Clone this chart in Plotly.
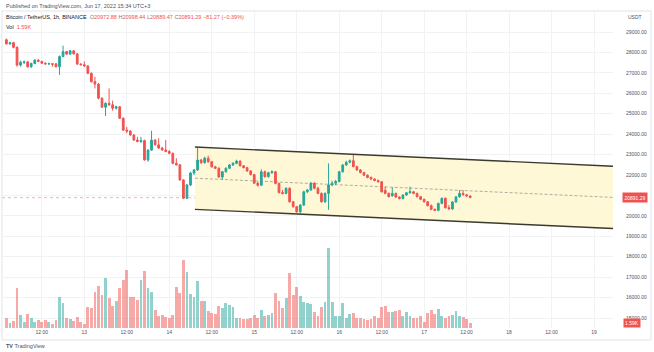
import plotly.graph_objects as go
import pandas as pd

# ---------------- data ----------------
first_candle = "2022-06-12 02:00"

opens = [28620, 28420, 28480, 28250, 27380, 27510, 27540, 27300, 27460, 27620,
         27560, 27470, 27440, 27450, 27440, 27300, 27800, 28040, 27920, 28080,
         27930, 27430, 27400, 27340, 26980, 26570, 26450, 25760, 25320, 25510,
         25440, 25270, 25340, 24780, 24200, 24150, 23960, 23710, 23640, 23690,
         22740, 23220, 23710, 23480, 23320, 23230, 23150, 23060, 22570, 22500,
         21760, 20860, 21510, 22100, 22250, 22730, 22600, 22820, 22650, 22400,
         22330, 21900, 22160, 22330, 22490, 22570, 22680, 22450, 22360, 22200,
         22020, 21600, 21500, 22160, 21920, 22110, 22160, 21590, 21140, 21100,
         21350, 20690, 20450, 20200, 20530, 21180, 21270, 21600, 21350, 21100,
         20690, 21100, 21510, 21600, 21680, 22160, 22490, 22620, 22700, 22410,
         22250, 22120, 21990, 21880, 21800, 21730, 21670, 21250, 21100, 20980,
         21100, 20920, 20850, 21020, 21130, 21180, 21100, 20940, 20810, 20690,
         20500, 20320, 20270, 20610, 20860, 20400, 20340, 20680, 20930, 21100,
         21030, 20972.88]
highs = [28680, 28520, 28520, 28300, 27600, 27600, 27560, 27500, 27680, 27680,
         27590, 27520, 27500, 27480, 27470, 27850, 28330, 28080, 28120, 28100,
         27960, 27480, 27560, 27380, 27020, 26810, 26500, 25800, 25560, 26240,
         25640, 25400, 25380, 24820, 24360, 24200, 24000, 23870, 23870, 23730,
         23260, 24170, 23760, 23800, 23380, 23720, 23220, 23100, 22820, 22540,
         21790, 21560, 22160, 22300, 23340, 22790, 22900, 22950, 22690, 22450,
         22380, 22200, 22380, 22540, 22630, 22750, 22720, 22490, 22400, 22240,
         22060, 21680, 22280, 22220, 22160, 22230, 22200, 21620, 21270, 21400,
         21400, 20730, 20490, 20570, 21230, 21320, 21660, 21650, 21430, 21150,
         21150, 22570, 21720, 21760, 22200, 22530, 22700, 22760, 23000, 22450,
         22290, 22160, 22030, 21930, 21850, 21780, 21700, 21430, 21140, 21400,
         21140, 20960, 21060, 21170, 21430, 21220, 21140, 20980, 20850, 20730,
         20560, 20360, 20650, 20900, 20900, 20530, 20720, 20970, 21260, 21260,
         21080, 20998.44]
lows = [28380, 28380, 28200, 27300, 27300, 27430, 27250, 27240, 27420, 27520,
        27440, 27400, 27390, 27300, 27260, 26900, 27760, 27880, 27880, 27900,
        27400, 27360, 27300, 26930, 26520, 26240, 25700, 25280, 24890, 25380,
        25150, 25200, 24740, 24150, 24040, 23920, 23680, 23600, 23560, 22700,
        22650, 23180, 23440, 23280, 23180, 23110, 23020, 22530, 22460, 21720,
        20820, 20820, 21470, 22000, 22200, 22550, 22560, 22600, 22360, 22290,
        21860, 21760, 22120, 22290, 22450, 22530, 22420, 22320, 22160, 21980,
        21560, 21430, 21460, 21870, 21880, 22060, 21540, 21100, 21050, 21060,
        20650, 20400, 20150, 20120, 20480, 21120, 21220, 21300, 21060, 20650,
        20640, 20300, 21460, 21500, 21640, 22120, 22450, 22580, 22380, 22200,
        22080, 21950, 21840, 21760, 21690, 21630, 21140, 21060, 20900, 20950,
        20880, 20800, 20800, 20990, 21090, 21060, 20900, 20770, 20650, 20460,
        20280, 20230, 20230, 20570, 20360, 20300, 20300, 20640, 20900, 20990,
        20940, 20889.47]
closes = [28420, 28470, 28250, 27380, 27520, 27540, 27300, 27460, 27620, 27560,
          27470, 27440, 27450, 27420, 27300, 27800, 28040, 27920, 28080, 27930,
          27430, 27400, 27340, 26980, 26570, 26450, 25760, 25320, 25510, 25440,
          25270, 25340, 24780, 24200, 24150, 23960, 23710, 23640, 23690, 22740,
          23220, 23710, 23480, 23320, 23230, 23150, 23060, 22570, 22500, 21760,
          20860, 21510, 22100, 22250, 22730, 22600, 22820, 22650, 22400, 22330,
          21900, 22160, 22330, 22490, 22570, 22680, 22450, 22360, 22200, 22020,
          21600, 21500, 22160, 21920, 22110, 22160, 21590, 21140, 21100, 21350,
          20690, 20450, 20200, 20530, 21180, 21270, 21600, 21350, 21100, 20690,
          21100, 21510, 21600, 21680, 22160, 22490, 22620, 22700, 22410, 22250,
          22120, 21990, 21880, 21800, 21730, 21670, 21180, 21100, 20940, 21100,
          20920, 20850, 21020, 21130, 21180, 21100, 20940, 20810, 20690, 20500,
          20320, 20270, 20610, 20860, 20400, 20340, 20680, 20930, 21100, 21030,
          20972.88, 20891.29]
volume_k = [2.9, 1.6, 2.2, 11.9, 3.9, 1.9, 4.2, 2.9, 1.9, 2.4,
            1.9, 2.4, 1.9, 1.2, 2.4, 9.4, 7.6, 2.9, 2.6, 2.2,
            3.4, 1.9, 1.2, 6.3, 6.1, 10.9, 12.7, 9.9, 15.1, 9.1,
            6.5, 8.0, 12.1, 14.5, 17.5, 9.4, 9.4, 8.4, 14.4, 17.2,
            11.9, 10.7, 5.4, 3.6, 3.9, 3.2, 2.9, 3.9, 12.4, 10.4,
            20.4, 16.9, 10.2, 9.4, 14.1, 8.2, 8.2, 5.2, 4.6, 4.2,
            6.6, 5.9, 7.6, 6.9, 6.2, 3.1, 2.9, 2.6, 2.6, 2.9,
            3.9, 2.9, 5.4, 3.6, 3.9, 4.4, 10.6, 8.1, 5.9, 9.1,
            16.6, 9.9, 12.4, 9.6, 7.9, 7.4, 7.2, 4.9, 3.6, 6.3,
            7.9, 23.9, 7.9, 3.6, 3.6, 7.4, 2.9, 4.2, 4.4, 2.9,
            2.9, 2.6, 2.4, 2.6, 3.6, 2.9, 6.3, 6.6, 4.8, 4.9,
            5.1, 5.4, 3.6, 4.7, 3.6, 2.9, 2.9, 3.6, 1.9, 4.4,
            5.4, 4.2, 5.8, 3.6, 2.9, 3.6, 3.9, 5.2, 3.6, 3.2,
            2.6, 1.59]

x_tick_times = ["2022-06-12 12:00", "2022-06-13 00:00", "2022-06-13 12:00",
                "2022-06-14 00:00", "2022-06-14 12:00", "2022-06-15 00:00",
                "2022-06-15 12:00", "2022-06-16 00:00", "2022-06-16 12:00",
                "2022-06-17 00:00", "2022-06-17 12:00", "2022-06-18 00:00",
                "2022-06-18 12:00", "2022-06-19 00:00"]
x_tick_text = ["12:00", "13", "12:00", "14", "12:00", "15", "12:00", "16",
               "12:00", "17", "12:00", "18", "12:00", "19"]
y_tick_vals = [15000, 16000, 17000, 18000, 19000, 20000, 21000, 22000,
               23000, 24000, 25000, 26000, 27000, 28000, 29000]
y_tick_text = ["15000.00", "16000.00", "17000.00", "18000.00", "19000.00",
               "20000.00", "", "22000.00", "23000.00", "24000.00", "25000.00",
               "26000.00", "27000.00", "28000.00", "29000.00"]

# parallel channel drawing (anchor points)
channel_times = ["2022-06-14 07:15", "2022-06-19 05:21"]
channel_upper = [23370, 22430]
channel_lower = [20320, 19380]

last_price = 20891.29
last_volume_label = "1.59K"

# ---------------- styling / geometry ----------------
W, H = 654, 352
L, R, T, B = 2, 41, 11, 24
PW, PH = W - L - R, H - T - B
x_range = ["2022-06-12 00:45", "2022-06-19 05:21"]
y_range = [14512, 30028]
vol_range = [0, 95.1]

UP, DOWN = "#26a69a", "#ef5350"
FONT = "Liberation Sans"


def px(x):
    return (x - L) / PW


def py(y):
    return 1 - (y - T) / PH


times = pd.date_range(first_candle, periods=len(opens), freq="h")
vol_colors = ["rgba(38,166,154,0.5)" if c >= o else "rgba(239,83,80,0.5)"
              for o, c in zip(opens, closes)]

fig = go.Figure()

# channel background (base price axis)
mid = [(u + l) / 2 for u, l in zip(channel_upper, channel_lower)]
fig.add_trace(go.Scatter(
    x=[channel_times[0], channel_times[1], channel_times[1], channel_times[0], channel_times[0]],
    y=[channel_upper[0], channel_upper[1], channel_lower[1], channel_lower[0], channel_upper[0]],
    fill="toself", fillcolor="#fef8d6", mode="lines", line=dict(width=0),
    hoverinfo="skip"))
fig.add_trace(go.Scatter(x=channel_times, y=mid, mode="lines",
                         line=dict(color="#9a9a90", width=0.8, dash="3px,2px"),
                         hoverinfo="skip"))

# volume (overlay axis)
fig.add_trace(go.Bar(x=times, y=volume_k, marker=dict(color=vol_colors, line=dict(width=0)),
                     width=3600000 * 0.8, yaxis="y2", hoverinfo="skip"))

# candles (overlay axis sharing the price range, drawn above the channel fill)
fig.add_trace(go.Candlestick(
    x=times, open=opens, high=highs, low=lows, close=closes, yaxis="y3",
    increasing=dict(line=dict(color=UP, width=1), fillcolor=UP),
    decreasing=dict(line=dict(color=DOWN, width=1), fillcolor=DOWN),
    whiskerwidth=0, hoverinfo="skip"))

# channel border lines on top
fig.add_trace(go.Scatter(x=channel_times, y=channel_upper, mode="lines", yaxis="y3",
                         line=dict(color="#3b3a2e", width=1.4), hoverinfo="skip"))
fig.add_trace(go.Scatter(x=channel_times, y=channel_lower, mode="lines", yaxis="y3",
                         line=dict(color="#3b3a2e", width=1.4), hoverinfo="skip"))

shapes = [
    dict(type="line", xref="paper", yref="y", x0=0, x1=1, y0=last_price, y1=last_price,
         line=dict(color="rgba(239,83,80,0.45)", width=1, dash="dot"), layer="below"),
    dict(type="rect", xref="paper", yref="paper", x0=px(2), x1=px(651), y0=py(11), y1=py(340),
         line=dict(color="#e0e3eb", width=1), fillcolor="rgba(0,0,0,0)", layer="below"),
]

ann = []
lab = dict(showarrow=False, xref="paper", yref="paper")
ann.append(dict(lab, x=px(4), y=py(6), xanchor="left", yanchor="middle",
                text="Published on TradingView.com, Jun 17, 2022 15:34 UTC+3",
                font=dict(family=FONT, size=5.5, color="#50535e")))
g = "#787b86"
r = DOWN
legend1 = ("Bitcoin / TetherUS, 1h, BINANCE  "
           f"<span style='color:{g}'>O</span><span style='color:{r}'>20972.88</span> "
           f"<span style='color:{g}'>H</span><span style='color:{r}'>20998.44</span> "
           f"<span style='color:{g}'>L</span><span style='color:{r}'>20889.47</span> "
           f"<span style='color:{g}'>C</span><span style='color:{r}'>20891.29</span> "
           f"<span style='color:{r}'>−81.27 (−0.39%)</span>")
ann.append(dict(lab, x=px(4), y=py(17), xanchor="left", yanchor="middle", text=legend1,
                font=dict(family=FONT, size=5.5, color="#131722")))
ann.append(dict(lab, x=px(4), y=py(27), xanchor="left", yanchor="middle",
                text=f"Vol  <span style='color:{r}'>{last_volume_label}</span>",
                font=dict(family=FONT, size=5.5, color="#131722")))
ann.append(dict(lab, x=px(626), y=py(17), xanchor="left", yanchor="middle", text="USDT",
                font=dict(family=FONT, size=5, color="#50535e")))
ann.append(dict(lab, x=px(635), y=py(197.5), xanchor="center", yanchor="middle",
                text=f"{last_price:.2f}", bgcolor=DOWN, borderpad=1.5,
                font=dict(family=FONT, size=5, color="white")))
ann.append(dict(lab, x=px(632), y=py(322.5), xanchor="center", yanchor="middle",
                text=last_volume_label, bgcolor=DOWN, borderpad=1,
                font=dict(family=FONT, size=5, color="white")))
ann.append(dict(lab, x=px(4), y=py(346), xanchor="left", yanchor="middle",
                text="<b>TV</b> TradingView",
                font=dict(family=FONT, size=5.5, color="#50535e")))

fig.update_layout(
    width=W, height=H, margin=dict(l=L, r=R, t=T, b=B),
    paper_bgcolor="white", plot_bgcolor="white", showlegend=False,
    bargap=0, shapes=shapes, annotations=ann, hovermode=False,
    xaxis=dict(type="date", range=x_range, tickvals=x_tick_times, ticktext=x_tick_text,
               showgrid=True, gridcolor="#f0f2f6", gridwidth=1, zeroline=False,
               tickfont=dict(family=FONT, size=5, color="#50535e"),
               rangeslider=dict(visible=False), ticks="", showline=False,
               fixedrange=True),
    yaxis=dict(range=y_range, side="right", tickvals=y_tick_vals, ticktext=y_tick_text,
               showgrid=True, gridcolor="#f0f2f6", gridwidth=1, zeroline=False,
               tickfont=dict(family=FONT, size=5, color="#50535e"), ticks="",
               ticklabelstandoff=12, fixedrange=True),
    yaxis2=dict(range=vol_range, overlaying="y", visible=False, fixedrange=True),
    yaxis3=dict(range=y_range, overlaying="y", visible=False, fixedrange=True),
)

fig.write_html("out.html")
